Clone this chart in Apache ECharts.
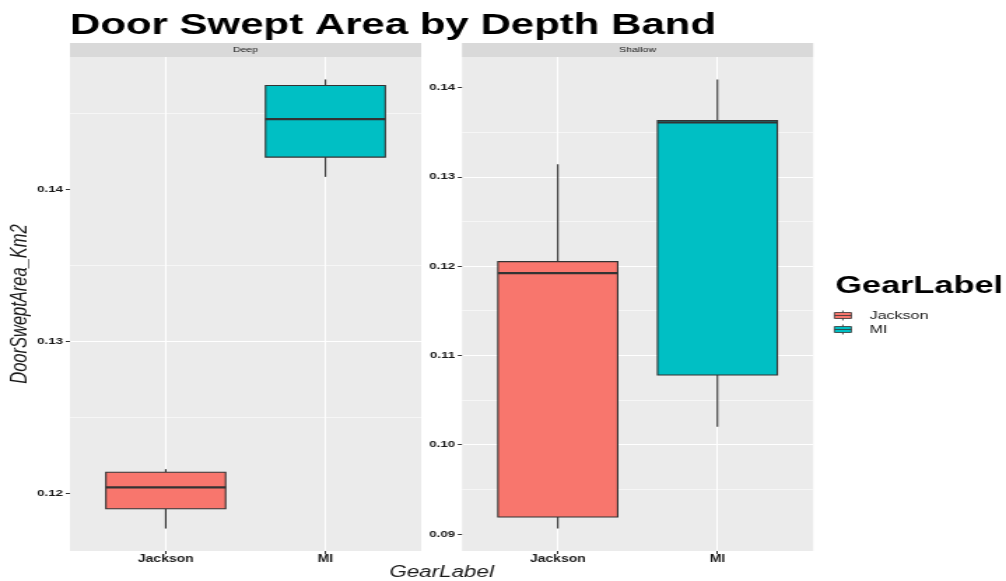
<!DOCTYPE html>
<html>
<head>
<meta charset="utf-8">
<script src="https://cdn.jsdelivr.net/npm/echarts@6/dist/echarts.min.js"></script>
<style>
  html, body { margin: 0; padding: 0; background: #ffffff; overflow: hidden; }
  /* chart is laid out on a narrower canvas and stretched horizontally */
  #chart { width: 719px; height: 581px; transform: scaleX(1.3992); transform-origin: 0 0; }
</style>
</head>
<body>
<div id="chart"></div>
<script>
// Gear types along the x axis of each facet, and the facet names
const gearLabels = ['Jackson', 'MI'];
const depthBands = ['Deep', 'Shallow'];

// Box summaries in km²: [lower whisker, Q1, median, Q3, upper whisker]
const deepJackson    = [0.1177, 0.1190, 0.1204, 0.1214, 0.1216];
const deepMI         = [0.1408, 0.1421, 0.1446, 0.1468, 0.1472];
const shallowJackson = [0.0906, 0.0919, 0.1192, 0.1205, 0.1314];
const shallowMI      = [0.1020, 0.1078, 0.1361, 0.1363, 0.1409];

// Labelled y ticks for each facet
const deepTicks    = [0.12, 0.13, 0.14];
const shallowTicks = [0.09, 0.10, 0.11, 0.12, 0.13, 0.14];

const gearColors = { Jackson: '#F8766D', MI: '#00BFC4' };
const FONT = 'Liberation Sans, Arial, Helvetica, sans-serif';

// facet geometry
const PANEL_TOP = 57, PANEL_H = 494, PANEL_W = 251;
const panelLeft = [50, 330.2];
const unit = PANEL_W / 2.2;            // one category step, with 0.6 step padding on each side

// free y scale per facet: data range padded by 5%
function paddedRange(boxes) {
  const lo = Math.min(...boxes.map(b => b[0]));
  const hi = Math.max(...boxes.map(b => b[4]));
  const pad = (hi - lo) * 0.05;
  return [lo - pad, hi + pad];
}
const panels = [
  { boxes: [deepJackson, deepMI], ticks: deepTicks, split: 3 },
  { boxes: [shallowJackson, shallowMI], ticks: shallowTicks, split: 5 }
];
panels.forEach(p => { p.range = paddedRange(p.boxes); });

function renderBox(params, api) {
  const cat = api.value(0);
  const x = api.coord([cat, api.value(1)])[0];
  const yLo = api.coord([cat, api.value(1)])[1];
  const yQ1 = api.coord([cat, api.value(2)])[1];
  const yMed = api.coord([cat, api.value(3)])[1];
  const yQ3 = api.coord([cat, api.value(4)])[1];
  const yHi = api.coord([cat, api.value(5)])[1];
  const half = api.size([1, 0])[0] * 0.75 / 2;
  const edge = { stroke: '#333333', lineWidth: 1.1 };
  return {
    type: 'group',
    children: [
      { type: 'line', shape: { x1: x, y1: yHi, x2: x, y2: yQ3 }, style: edge },
      { type: 'line', shape: { x1: x, y1: yQ1, x2: x, y2: yLo }, style: edge },
      { type: 'rect', shape: { x: x - half, y: yQ3, width: 2 * half, height: yQ1 - yQ3 },
        style: { fill: api.visual('color'), stroke: '#333333', lineWidth: 1.1 } },
      { type: 'line', shape: { x1: x - half, y1: yMed, x2: x + half, y2: yMed },
        style: { stroke: '#333333', lineWidth: 2.2 } }
    ]
  };
}

const grid = [], xAxis = [], yAxis = [], series = [], graphic = [];

panels.forEach((p, i) => {
  // panel background grid carrying the y scale
  grid.push({ left: panelLeft[i], top: PANEL_TOP, width: PANEL_W, height: PANEL_H,
              show: true, backgroundColor: '#EBEBEB', borderWidth: 0 });
  // box grid spanning the two category bands
  grid.push({ left: panelLeft[i] + 0.1 * unit, top: PANEL_TOP, width: 2 * unit, height: PANEL_H,
              show: false });

  xAxis.push({ type: 'value', gridIndex: 2 * i, min: 0, max: 1, show: false });
  xAxis.push({
    type: 'category', gridIndex: 2 * i + 1, data: gearLabels,
    axisLine: { show: false },
    axisTick: { show: true, alignWithLabel: true, length: 3, lineStyle: { color: '#333333' } },
    axisLabel: { margin: 3, fontSize: 10, fontWeight: 'bold', color: '#1a1a1a', fontFamily: FONT },
    splitLine: { show: true, alignWithLabel: true, lineStyle: { color: '#ffffff', width: 1.1 } }
  });

  const yBase = {
    type: 'value', min: p.range[0], max: p.range[1], splitNumber: p.split, scale: true
  };
  yAxis.push(Object.assign({}, yBase, {
    gridIndex: 2 * i,
    axisLine: { show: false },
    axisTick: { show: true, length: 3, customValues: p.ticks, lineStyle: { color: '#333333' } },
    axisLabel: { customValues: p.ticks, formatter: v => v.toFixed(2), margin: 5,
                 fontSize: 9.5, fontWeight: 'bold', color: '#1a1a1a', fontFamily: FONT },
    splitLine: { show: true, showMinLine: false, showMaxLine: false,
                 lineStyle: { color: '#ffffff', width: 1.1 } },
    minorTick: { show: false, splitNumber: 2 },
    minorSplitLine: { show: true, lineStyle: { color: '#ffffff', width: 0.55 } }
  }, i === 0 ? {
    name: 'DoorSweptArea_Km2', nameLocation: 'middle', nameGap: 23, nameRotate: 90,
    nameTextStyle: { fontStyle: 'italic', fontSize: 16.5, color: '#1a1a1a', fontFamily: FONT }
  } : {}));
  yAxis.push(Object.assign({}, yBase, { gridIndex: 2 * i + 1, show: false }));

  p.boxes.forEach((box, k) => {
    series.push({
      type: 'custom', name: gearLabels[k],
      xAxisIndex: 2 * i + 1, yAxisIndex: 2 * i + 1,
      itemStyle: { color: gearColors[gearLabels[k]], borderColor: '#333333', borderWidth: 1 },
      encode: { x: 0, y: [1, 2, 3, 4, 5] },
      data: [[k].concat(box)],
      renderItem: renderBox,
      silent: true
    });
  });

  // facet strip
  graphic.push({ type: 'rect', shape: { x: panelLeft[i], y: 43, width: PANEL_W, height: 14 },
                 style: { fill: '#D9D9D9' }, silent: true });
  graphic.push({ type: 'text', x: panelLeft[i] + PANEL_W / 2, y: 50,
                 style: { text: depthBands[i], fontSize: 7.5, fontFamily: FONT, fill: '#1a1a1a',
                          align: 'center', verticalAlign: 'middle',
                          textAlign: 'center', textVerticalAlign: 'middle' }, silent: true });
});

// shared x axis title
graphic.push({ type: 'text', x: (panelLeft[0] + panelLeft[1] + PANEL_W) / 2, y: 573,
               style: { text: 'GearLabel', fontSize: 16, fontStyle: 'italic', fontFamily: FONT,
                        fill: '#1a1a1a', align: 'center', verticalAlign: 'middle',
                        textAlign: 'center', textVerticalAlign: 'middle' }, silent: true });

const option = {
  animation: false,
  backgroundColor: '#ffffff',
  textStyle: { fontFamily: FONT },
  title: [
    { text: 'Door Swept Area by Depth Band', left: 50, top: 10.5, padding: 0,
      textStyle: { fontSize: 30, fontWeight: 'bold', color: '#000000', fontFamily: FONT } },
    { text: 'GearLabel', left: 597, top: 274, padding: 0,
      textStyle: { fontSize: 24.5, fontWeight: 'bold', color: '#000000', fontFamily: FONT } }
  ],
  legend: {
    data: gearLabels, orient: 'vertical', left: 596, top: 309.5, padding: 0,
    itemWidth: 12, itemHeight: 10, itemGap: 2,
    icon: 'path://M6,0L6,2M0,2L12,2L12,8L0,8ZM0,5L12,5M6,8L6,10',
    itemStyle: { borderColor: '#333333', borderWidth: 0.8 },
    textStyle: { fontSize: 11.5, color: '#1a1a1a', lineHeight: 10, padding: [0, 0, 0, 8], fontFamily: FONT },
    selectedMode: false
  },
  grid, xAxis, yAxis, series, graphic
};

const chart = echarts.init(document.getElementById('chart'), null, { renderer: 'canvas' });
chart.setOption(option);
</script>
</body>
</html>
